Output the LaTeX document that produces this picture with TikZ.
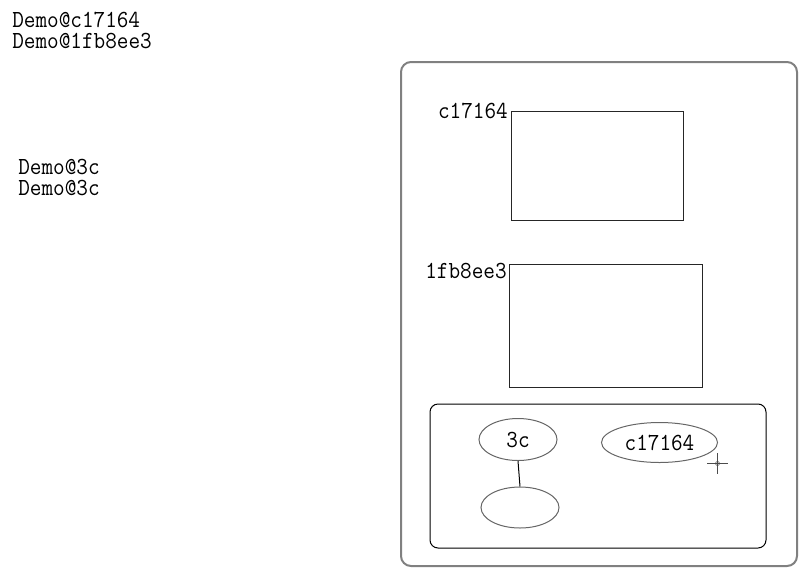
\documentclass[tikz,border=0pt]{standalone}
\usepackage{fontspec}
\setmonofont{Latin Modern Mono}[FakeStretch=0.92]
\usetikzlibrary{shapes.geometric}
\tikzset{
  txt/.style={font=\fontsize{18.4pt}{22pt}\ttfamily, inner sep=0pt},
  frame/.style={draw=black!50, line width=1.5pt, rounded corners=7.5pt},
  panel/.style={draw=black, line width=0.75pt, rounded corners=6pt},
  tile/.style={draw=black!85, line width=0.75pt},
  oval/.style={ellipse, draw=black!60, line width=0.75pt, inner sep=0pt, txt},
  wire/.style={line width=0.75pt}
}
\begin{document}
\begin{tikzpicture}[x=0.75pt,y=-0.75pt]
  \useasboundingbox (0,0) rectangle (810,575);
  \node[txt,anchor=base west] (d1) at (12,27) {Demo@c17164};
  \node[txt,anchor=base west] (d2) at (12,48.5) {Demo@1fb8ee3};
  \node[txt,anchor=base west] (d3) at (18,174) {Demo@3c};
  \node[txt,anchor=base west] (d4) at (18,195) {Demo@3c};
  \draw[frame] (401,62) rectangle (797,566);
  \draw[tile] (511,111) rectangle (683,220);
  \node[txt,anchor=base east] (l1) at (508,118) {c17164};
  \draw[tile] (509,264) rectangle (702,387);
  \node[txt,anchor=base east] (l2) at (507,278) {1fb8ee3};
  \draw[panel] (430,404) rectangle (766,548);
  \node[oval,minimum width=58.5pt,minimum height=31.5pt] (e1) at (518,439.5) {3c};
  \node[oval,minimum width=87pt,minimum height=30pt] (e2) at (659.5,442.5) {c17164};
  \node[oval,minimum width=58.5pt,minimum height=30.75pt] (e3) at (520,507.5) {};
  \draw[wire] (e1.south) -- (e3.north);
  \draw[black!70,line width=0.75pt] (707,463.5) -- (728,463.5) (717.5,453) -- (717.5,474);
  \draw[black!70] (717.5,463.5) circle (1.5pt);
\end{tikzpicture}
\end{document}
